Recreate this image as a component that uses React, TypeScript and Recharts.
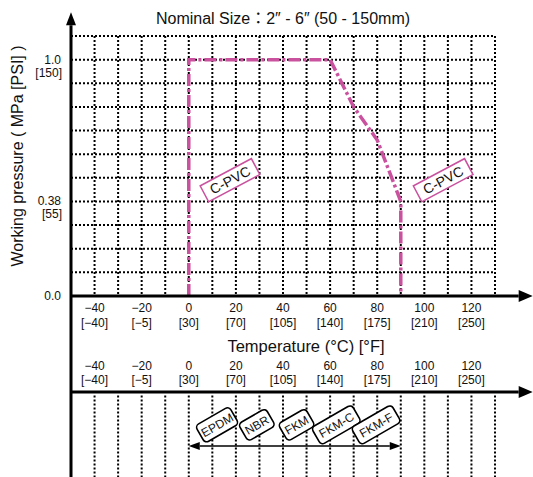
import { LineChart, Line, XAxis, YAxis, CartesianGrid, ReferenceLine, ReferenceDot } from 'recharts';

const FONT = '"Liberation Sans", Arial, "Noto Sans CJK JP", sans-serif';
const PINK = '#c9519e';
const INK = '#111';

// temperature axis (°C) and its grid
const tempDomain = [-50, 130];
const tempGrid = [-40, -30, -20, -10, 0, 10, 20, 30, 40, 50, 60, 70, 80, 90, 100, 110, 120, 130];
const tempLabels = [-40, -20, 0, 20, 40, 60, 80, 100, 120];
const celsiusText = ['−40', '−20', '0', '20', '40', '60', '80', '100', '120'];
const fahrenheitText = ['[−40]', '[−5]', '[30]', '[70]', '[105]', '[140]', '[175]', '[210]', '[250]'];

// pressure axis (grid positions, MPa)
const pressureDomain = [0, 1.1];
const pressureGrid = [0, 0.1, 0.2, 0.3, 0.4, 0.5, 0.6, 0.7, 0.8, 0.9, 1.0, 1.1];
const pressureTicks = [0, 0.4, 1.0];
const mpaText = ['0.0', '0.38', '1.0'];
const psiText = ['', '[55]', '[150]'];

// C-PVC working pressure envelope
const curveTemps = [0, 0, 60, 70, 80, 90, 90];
const curvePressures = [0, 1.0, 1.0, 0.8, 0.66, 0.4, 0];

// seal materials usable across the range
const materials = ['EPDM', 'NBR', 'FKM', 'FKM-C', 'FKM-F'];
const materialRange = [0, 90];

const curveData = curveTemps.map((t, i) => ({ t, p: curvePressures[i] }));

// layout in data units below the pressure axis
const AXIS_TOP = 1.2;
const AXIS_RIGHT = 146;
const LOWER_AXIS = -0.406;
const LOWER_END = -0.8;
const MATERIAL_ROW = -0.635;
const MATERIAL_LABEL_ROW = -0.545;

const XTick = ({ x, y, payload }: any) => {
  const i = tempLabels.indexOf(payload.value);
  if (i < 0) return null;
  return (
    <g fill={INK} fontSize={12} fontFamily={FONT} textAnchor="middle">
      <text x={x} y={y + 16}>{celsiusText[i]}</text>
      <text x={x} y={y + 31}>{fahrenheitText[i]}</text>
      <text x={x} y={y + 74}>{celsiusText[i]}</text>
      <text x={x} y={y + 88}>{fahrenheitText[i]}</text>
    </g>
  );
};

const YTick = ({ x, y, payload }: any) => {
  const i = pressureTicks.indexOf(payload.value);
  if (i < 0) return null;
  return (
    <g fill={INK} fontSize={12} fontFamily={FONT} textAnchor="end">
      <text x={x - 10} y={y + 4}>{mpaText[i]}</text>
      {psiText[i] && <text x={x - 9} y={y + 17}>{psiText[i]}</text>}
    </g>
  );
};

const arrowLine = (head: 'end' | 'both', width: number, len: number, half: number) => (props: any) => {
  const { x1, y1, x2, y2 } = props;
  const ang = Math.atan2(y2 - y1, x2 - x1);
  const tri = (tx: number, ty: number, a: number) => {
    const bx = tx - len * Math.cos(a);
    const by = ty - len * Math.sin(a);
    const px = half * Math.sin(a);
    const py = -half * Math.cos(a);
    return `${tx},${ty} ${bx + px},${by + py} ${bx - px},${by - py}`;
  };
  const sx = head === 'both' ? x1 + len * Math.cos(ang) : x1;
  const sy = head === 'both' ? y1 + len * Math.sin(ang) : y1;
  return (
    <g>
      <line x1={sx} y1={sy} x2={x2 - len * Math.cos(ang)} y2={y2 - len * Math.sin(ang)} stroke="#000" strokeWidth={width} />
      <polygon points={tri(x2, y2, ang)} fill="#000" />
      {head === 'both' && <polygon points={tri(x1, y1, ang + Math.PI)} fill="#000" />}
    </g>
  );
};

const pvcTag = (props: any) => {
  const { cx, cy } = props;
  return (
    <g transform={`translate(${cx},${cy}) rotate(-28)`}>
      <rect x={-29} y={-9} width={58} height={18} fill="#fff" stroke={PINK} strokeWidth={1.5} />
      <text x={0} y={5} textAnchor="middle" fontSize={14} fontFamily={FONT} fill={INK}>
        C-PVC
      </text>
    </g>
  );
};

const materialTag = (name: string) => (props: any) => {
  const { cx, cy } = props;
  const w = name.length * 7.5 + 9;
  return (
    <g transform={`translate(${cx},${cy}) rotate(-30)`}>
      <rect x={-w / 2} y={-10} width={w} height={20} rx={4} fill="#fff" stroke="#000" strokeWidth={1.6} />
      <text x={0} y={4.5} textAnchor="middle" fontSize={12} fontFamily={FONT} fill={INK}>
        {name}
      </text>
    </g>
  );
};

export default function App() {
  const step = (materialRange[1] - materialRange[0] - 12 * 2 + 1.5) / (materials.length - 1);
  return (
    <div style={{ position: 'absolute', left: 0, top: 0, width: 533, height: 477, background: '#fff' }}>
      <div
        style={{
          position: 'absolute',
          left: 283,
          top: 10,
          transform: 'translateX(-50%)',
          whiteSpace: 'nowrap',
          fontFamily: FONT,
          fontSize: 16,
          lineHeight: '18px',
          color: INK,
        }}
      >
        Nominal Size：2″ - 6″ (50 - 150mm)
      </div>
      <LineChart width={533} height={477} data={curveData} margin={{ top: 36, right: 38, left: 11, bottom: 0 }}>
        <CartesianGrid stroke="#000" strokeWidth={2} strokeDasharray="2 2" />
        <XAxis
          dataKey="t"
          type="number"
          domain={tempDomain}
          ticks={tempGrid}
          interval={0}
          height={181}
          axisLine={false}
          tickLine={false}
          tickSize={0}
          tickMargin={0}
          tick={<XTick />}
          label={{
            content: ({ viewBox }: any) => (
              <text
                x={viewBox.x + viewBox.width / 2 + 23}
                y={viewBox.y + 56}
                textAnchor="middle"
                fontSize={16.5}
                fontFamily={FONT}
                fill={INK}
              >
                Temperature (°C) [°F]
              </text>
            ),
          }}
        />
        <YAxis
          type="number"
          domain={pressureDomain}
          ticks={pressureGrid}
          interval={0}
          width={60}
          axisLine={false}
          tickLine={false}
          tickSize={0}
          tickMargin={0}
          tick={<YTick />}
          label={{
            content: () => (
              <text
                transform="translate(17,156) rotate(-90)"
                textAnchor="middle"
                dominantBaseline="central"
                fontSize={16}
                fontFamily={FONT}
                fill={INK}
              >
                Working pressure ( MPa [PSI] )
              </text>
            ),
          }}
        />
        {tempGrid.map((t) => (
          <ReferenceLine
            key={t}
            segment={[{ x: t, y: LOWER_AXIS - 0.015 }, { x: t, y: LOWER_END }]}
            ifOverflow="visible"
            stroke="#000"
            strokeWidth={2}
            strokeDasharray="2 2"
          />
        ))}
        <Line
          dataKey="p"
          type="linear"
          stroke={PINK}
          strokeWidth={3.5}
          strokeDasharray="12 3 3 3"
          dot={false}
          isAnimationActive={false}
        />
        <ReferenceLine
          segment={[{ x: tempDomain[0], y: 0 }, { x: AXIS_RIGHT, y: 0 }]}
          ifOverflow="visible"
          shape={arrowLine('end', 3, 14, 6)}
        />
        <ReferenceLine
          segment={[{ x: tempDomain[0], y: LOWER_AXIS }, { x: AXIS_RIGHT, y: LOWER_AXIS }]}
          ifOverflow="visible"
          shape={arrowLine('end', 3, 14, 6)}
        />
        <ReferenceLine
          segment={[{ x: tempDomain[0], y: LOWER_END }, { x: tempDomain[0], y: AXIS_TOP }]}
          ifOverflow="visible"
          shape={arrowLine('end', 3, 13, 5)}
        />
        <ReferenceLine
          segment={[{ x: materialRange[0], y: MATERIAL_ROW }, { x: materialRange[1], y: MATERIAL_ROW }]}
          ifOverflow="visible"
          shape={arrowLine('both', 1.5, 11, 4)}
        />
        <ReferenceDot x={17.5} y={0.49} ifOverflow="visible" shape={pvcTag} />
        <ReferenceDot x={108} y={0.49} ifOverflow="visible" shape={pvcTag} />
        {materials.map((m, i) => (
          <ReferenceDot
            key={m}
            x={materialRange[0] + 12 + i * step}
            y={MATERIAL_LABEL_ROW}
            ifOverflow="visible"
            shape={materialTag(m)}
          />
        ))}
      </LineChart>
    </div>
  );
}
